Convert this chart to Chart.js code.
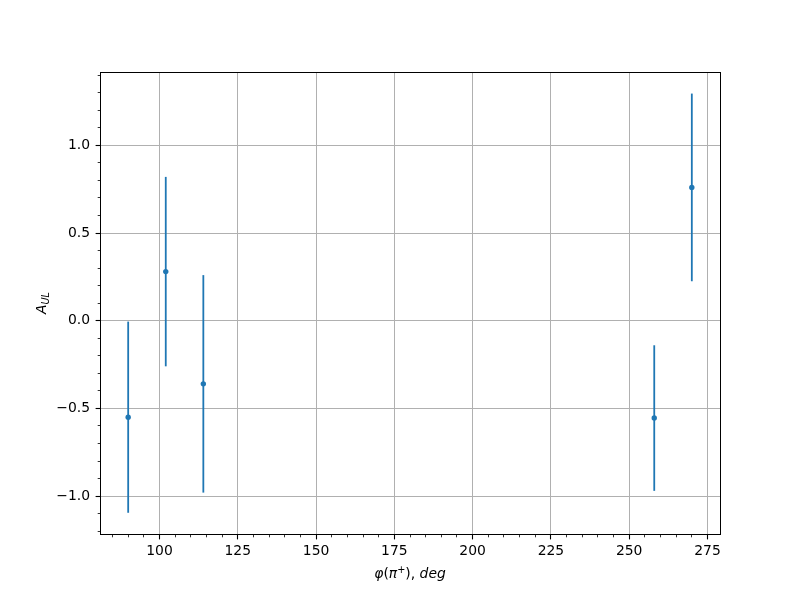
<!DOCTYPE html>
<html>
<head>
<meta charset="utf-8">
<script src="https://cdn.jsdelivr.net/npm/chart.js@4"></script>
<style>
  html, body { margin: 0; padding: 0; background: #ffffff; }
  #wrap { width: 800px; height: 600px; }
</style>
</head>
<body>
<div id="wrap"><canvas id="c" width="800" height="600"></canvas></div>
<script>
// ---- data ----
const phiDeg   = [90, 102, 114, 258, 270];
const asymUL   = [-0.55, 0.28, -0.36, -0.555, 0.76];
const asymErr  = [0.545, 0.54, 0.62, 0.415, 0.535];

// ---- axis ticks ----
const xMajorTicks = [100, 125, 150, 175, 200, 225, 250, 275];
const yMajorTicks = [-1.0, -0.5, 0.0, 0.5, 1.0];
const xRange = [81, 279];
const yRange = [-1.216, 1.418];

const xMinorTicks = [];
for (let v = 85; v <= 275; v += 5) if (!xMajorTicks.includes(v)) xMinorTicks.push(v);
const yMinorTicks = [];
for (let i = -12; i <= 14; i++) { if (i % 5 !== 0) yMinorTicks.push(i / 10); }

const BLUE = '#1f77b4';
const FONT = '"DejaVu Sans", "Liberation Sans", sans-serif';
const isMajor = (arr, v) => arr.some(m => Math.abs(m - v) < 1e-9);
const fmtY = v => { const s = Math.abs(v).toFixed(1); return (v < -1e-9 ? '\u2212' : '') + s; };

const points = phiDeg.map((x, i) => ({ x: x, y: asymUL[i] }));

const framePlugin = {
  id: 'frame',
  beforeDatasetsDraw(chart) {
    const { ctx, scales: { x, y } } = chart;
    ctx.save();
    ctx.strokeStyle = BLUE;
    ctx.lineWidth = 1.8;
    for (let i = 0; i < phiDeg.length; i++) {
      const px = x.getPixelForValue(phiDeg[i]);
      const top = y.getPixelForValue(asymUL[i] + asymErr[i]);
      const bot = y.getPixelForValue(asymUL[i] - asymErr[i]);
      ctx.beginPath();
      ctx.moveTo(px, top);
      ctx.lineTo(px, bot);
      ctx.stroke();
    }
    ctx.restore();
  },
  afterDraw(chart) {
    const { ctx, chartArea: a, scales: { x, y } } = chart;
    ctx.save();
    // spines
    ctx.strokeStyle = '#000';
    ctx.lineWidth = 1;
    ctx.strokeRect(Math.round(a.left) + 0.5, Math.round(a.top) + 0.5,
                   Math.round(a.right - a.left), Math.round(a.bottom - a.top));
    // ticks
    const bottom = Math.round(a.bottom) + 0.5;
    const left = Math.round(a.left) + 0.5;
    function xt(v, len, w) {
      const px = Math.floor(x.getPixelForValue(v)) + 0.5;
      ctx.lineWidth = w; ctx.beginPath(); ctx.moveTo(px, bottom); ctx.lineTo(px, bottom + len); ctx.stroke();
    }
    function yt(v, len, w) {
      const py = Math.floor(y.getPixelForValue(v)) + 0.5;
      ctx.lineWidth = w; ctx.beginPath(); ctx.moveTo(left, py); ctx.lineTo(left - len, py); ctx.stroke();
    }
    xMajorTicks.forEach(v => xt(v, 4.9, 1.1));
    xMinorTicks.forEach(v => xt(v, 2.8, 0.8));
    yMajorTicks.forEach(v => yt(v, 4.9, 1.1));
    yMinorTicks.forEach(v => yt(v, 2.8, 0.8));

    // x title: φ(π⁺), deg
    ctx.fillStyle = '#000';
    ctx.textBaseline = 'alphabetic';
    ctx.textAlign = 'left';
    const fs = 13.9, fsSub = 9.7;
    const parts = [
      { t: '\u03c6', f: 'italic ' + fs + 'px ' + FONT, dy: 0 },
      { t: '(', f: fs + 'px ' + FONT, dy: 0 },
      { t: '\u03c0', f: 'italic ' + fs + 'px ' + FONT, dy: 0 },
      { t: '+', f: fsSub + 'px ' + FONT, dy: -5.5 },
      { t: '), ', f: fs + 'px ' + FONT, dy: 0 },
      { t: 'deg', f: 'italic ' + fs + 'px ' + FONT, dy: 0 }
    ];
    let total = 0;
    parts.forEach(p => { ctx.font = p.f; p.w = ctx.measureText(p.t).width; total += p.w; });
    let cx = (a.left + a.right) / 2 - total / 2;
    const base = 578;
    parts.forEach(p => { ctx.font = p.f; ctx.fillText(p.t, cx, base + p.dy); cx += p.w; });

    // y title: A_UL
    ctx.translate(45.5, (a.top + a.bottom) / 2);
    ctx.rotate(-Math.PI / 2);
    ctx.font = 'italic ' + fs + 'px ' + FONT;
    const wA = ctx.measureText('A').width;
    ctx.font = 'italic ' + fsSub + 'px ' + FONT;
    const wS = ctx.measureText('UL').width;
    const start = -(wA + wS) / 2;
    ctx.font = 'italic ' + fs + 'px ' + FONT;
    ctx.fillText('A', start, 0);
    ctx.font = 'italic ' + fsSub + 'px ' + FONT;
    ctx.fillText('UL', start + wA, 3);
    ctx.restore();
  }
};

new Chart(document.getElementById('c'), {
  type: 'scatter',
  data: {
    datasets: [{
      data: points,
      backgroundColor: BLUE,
      borderColor: BLUE,
      borderWidth: 0,
      pointRadius: 2.7,
      pointHoverRadius: 2.7,
      showLine: false
    }]
  },
  options: {
    responsive: false,
    devicePixelRatio: 1,
    animation: false,
    events: [],
    layout: { padding: { left: 0, top: 72, right: 80, bottom: 0 } },
    plugins: { legend: { display: false }, tooltip: { enabled: false } },
    scales: {
      x: {
        type: 'linear',
        min: xRange[0], max: xRange[1],
        afterBuildTicks: s => { s.ticks = xMajorTicks.concat(xMinorTicks).sort((p, q) => p - q).map(v => ({ value: v })); },
        afterFit: s => { s.height = 66; },
        grid: {
          drawTicks: false,
          lineWidth: 1,
          color: c => (c.tick && isMajor(xMajorTicks, c.tick.value)) ? '#b0b0b0' : 'rgba(0,0,0,0)'
        },
        border: { display: false },
        ticks: {
          autoSkip: false, maxRotation: 0, minRotation: 0,
          padding: 9,
          color: '#000',
          font: { family: FONT, size: 13.9 },
          callback: v => isMajor(xMajorTicks, v) ? String(v) : ''
        }
      },
      y: {
        type: 'linear',
        min: yRange[0], max: yRange[1],
        afterBuildTicks: s => { s.ticks = yMajorTicks.concat(yMinorTicks).sort((p, q) => p - q).map(v => ({ value: v })); },
        afterFit: s => { s.width = 100; },
        grid: {
          drawTicks: false,
          lineWidth: 1,
          color: c => (c.tick && isMajor(yMajorTicks, c.tick.value)) ? '#b0b0b0' : 'rgba(0,0,0,0)'
        },
        border: { display: false },
        ticks: {
          autoSkip: false,
          padding: 10,
          color: '#000',
          font: { family: FONT, size: 13.9 },
          callback: v => isMajor(yMajorTicks, v) ? fmtY(v) : ''
        }
      }
    }
  },
  plugins: [framePlugin]
});
</script>
</body>
</html>
